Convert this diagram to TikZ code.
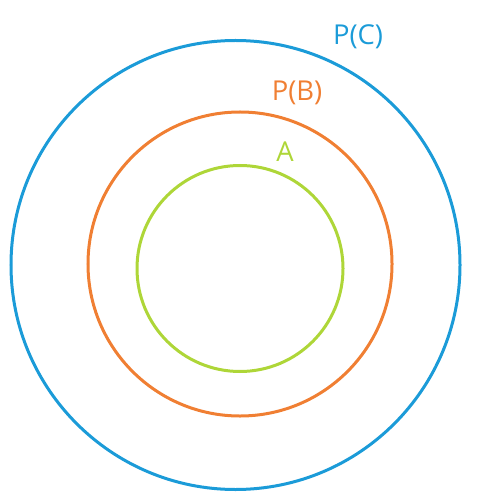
\documentclass[tikz,border=0pt]{standalone}
\usepackage{fontspec}
\setmainfont{Open Sans}
\usetikzlibrary{positioning}
\definecolor{setblue}{HTML}{1B9BD8}
\definecolor{setorange}{HTML}{F07F33}
\definecolor{setgreen}{HTML}{AED638}

\begin{document}
\begin{tikzpicture}[x=1bp, y=-1bp,
    ring/.style={draw, circle, line width=3bp, inner sep=0pt},
    lbl/.style={font=\fontsize{27.5}{32}\selectfont, inner sep=0pt}]
                \useasboundingbox (0,0) rectangle (497,502);
                % nested sets
                \node[ring, setblue, minimum size=449bp] (outer) at (235.5,265) {};
                \node[ring, setorange, minimum size=304bp] (middle) at (240,264) {};
                \node[ring, setgreen, minimum size=206bp] (inner) at (240,268.5) {};

                \node[lbl, text=setblue] (pc) at (358,36.5) {P(C)};
                \node[lbl, text=setorange] (pb) at (297,92.5) {P(B)};
                \node[lbl, text=setgreen] (a) at (285,151.5) {A};
            \end{tikzpicture}
\end{document}
